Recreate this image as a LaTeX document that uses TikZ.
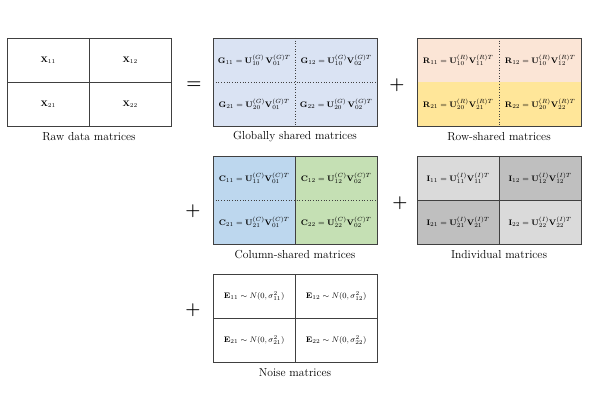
\documentclass[tikz,border=0pt]{standalone}
\usepackage{amsmath}
\definecolor{bordergray}{HTML}{404040}
\definecolor{gfill}{HTML}{DAE3F3}
\definecolor{rtop}{HTML}{FBE5D6}
\definecolor{rbot}{HTML}{FFE699}
\definecolor{cleft}{HTML}{BDD7EE}
\definecolor{cright}{HTML}{C5E0B4}
\definecolor{ilight}{HTML}{DADADA}
\definecolor{idark}{HTML}{BFBFBF}
\begin{document}
\begin{tikzpicture}[x=1pt,y=-1pt,
  cell/.style={minimum width=82pt,minimum height=44pt,inner sep=0pt,anchor=north west,font=\fontsize{8.3}{10}\selectfont},
  frame/.style={draw=bordergray,line width=0.8pt},
  solidin/.style={draw=bordergray,line width=0.7pt},
  dotin/.style={draw=bordergray,line width=0.7pt,dotted},
  captext/.style={font=\fontsize{11.6}{13}\selectfont,anchor=center,inner sep=0pt},
  op/.style={font=\fontsize{16}{17}\selectfont\boldmath,inner sep=0pt}]
\useasboundingbox (0,0) rectangle (591,414);

% Raw data
\node[cell,fill=white] (x11) at (7,38) {$\mathbf{X}_{11}$};
\node[cell,fill=white] (x12) at (89,38) {$\mathbf{X}_{12}$};
\node[cell,fill=white] (x21) at (7,82) {$\mathbf{X}_{21}$};
\node[cell,fill=white] (x22) at (89,82) {$\mathbf{X}_{22}$};
\draw[solidin] (x11.north east) -- (x21.south east);
\draw[solidin] (x11.south west) -- (x12.south east);
\draw[frame] (x11.north west) rectangle (x22.south east);
\node[captext] (xcap) at (89,137) {Raw data matrices};

\node[op] (eq) at (194,85) {$=$};

% Globally shared
\node[cell,fill=gfill] (g11) at (213,38) {$\mathbf{G}_{11}=\mathbf{U}^{(G)}_{10}\,\mathbf{V}^{(G)T}_{01}$};
\node[cell,fill=gfill] (g12) at (295,38) {$\mathbf{G}_{12}=\mathbf{U}^{(G)}_{10}\mathbf{V}^{(G)T}_{02}$};
\node[cell,fill=gfill] (g21) at (213,82) {$\mathbf{G}_{21}=\mathbf{U}^{(G)}_{20}\mathbf{V}^{(G)T}_{01}$};
\node[cell,fill=gfill] (g22) at (295,82) {$\mathbf{G}_{22}=\mathbf{U}^{(G)}_{20}\,\mathbf{V}^{(G)T}_{02}$};
\draw[dotin] (g11.north east) -- (g21.south east);
\draw[dotin] (g11.south west) -- (g12.south east);
\draw[frame] (g11.north west) rectangle (g22.south east);
\node[captext] (gcap) at (295,137) {Globally shared matrices};

\node[op] (p1) at (397,85) {$+$};

% Row-shared
\node[cell,fill=rtop] (r11) at (417,38) {$\mathbf{R}_{11}=\mathbf{U}^{(R)}_{10}\mathbf{V}^{(R)T}_{11}$};
\node[cell,fill=rtop] (r12) at (499,38) {$\mathbf{R}_{12}=\mathbf{U}^{(R)}_{10}\mathbf{V}^{(R)T}_{12}$};
\node[cell,fill=rbot] (r21) at (417,82) {$\mathbf{R}_{21}=\mathbf{U}^{(R)}_{20}\mathbf{V}^{(R)T}_{21}$};
\node[cell,fill=rbot] (r22) at (499,82) {$\mathbf{R}_{22}=\mathbf{U}^{(R)}_{20}\mathbf{V}^{(R)T}_{22}$};
\draw[dotin] (r11.north east) -- (r21.south east);
\draw[frame] (r11.north west) rectangle (r22.south east);
\node[captext] (rcap) at (499,137) {Row-shared matrices};

\node[op] (p2) at (193,211) {$+$};

% Column-shared
\node[cell,fill=cleft] (c11) at (213,156) {$\mathbf{C}_{11}=\mathbf{U}^{(C)}_{11}\mathbf{V}^{(C)T}_{01}$};
\node[cell,fill=cright] (c12) at (295,156) {$\mathbf{C}_{12}=\mathbf{U}^{(C)}_{12}\mathbf{V}^{(C)T}_{02}$};
\node[cell,fill=cleft] (c21) at (213,200) {$\mathbf{C}_{21}=\mathbf{U}^{(C)}_{21}\mathbf{V}^{(C)T}_{01}$};
\node[cell,fill=cright] (c22) at (295,200) {$\mathbf{C}_{22}=\mathbf{U}^{(C)}_{22}\mathbf{V}^{(C)T}_{02}$};
\draw[solidin] (c11.north east) -- (c21.south east);
\draw[dotin] (c11.south west) -- (c12.south east);
\draw[frame] (c11.north west) rectangle (c22.south east);
\node[captext] (ccap) at (295,255) {Column-shared matrices};

\node[op] (p3) at (400,203) {$+$};

% Individual
\node[cell,fill=ilight] (i11) at (417,156) {$\mathbf{I}_{11}=\mathbf{U}^{(I)}_{11}\mathbf{V}^{(I)T}_{11}$};
\node[cell,fill=idark] (i12) at (499,156) {$\mathbf{I}_{12}=\mathbf{U}^{(I)}_{12}\mathbf{V}^{(I)T}_{12}$};
\node[cell,fill=idark] (i21) at (417,200) {$\mathbf{I}_{21}=\mathbf{U}^{(I)}_{21}\mathbf{V}^{(I)T}_{21}$};
\node[cell,fill=ilight] (i22) at (499,200) {$\mathbf{I}_{22}=\mathbf{U}^{(I)}_{22}\mathbf{V}^{(I)T}_{22}$};
\draw[solidin] (i11.north east) -- (i21.south east);
\draw[solidin] (i11.south west) -- (i12.south east);
\draw[frame] (i11.north west) rectangle (i22.south east);
\node[captext] (icap) at (499,255) {Individual matrices};

\node[op] (p4) at (193,310) {$+$};

% Noise
\node[cell,fill=white] (e11) at (213,274) {$\mathbf{E}_{11}\sim N(0,\sigma^2_{11})$};
\node[cell,fill=white] (e12) at (295,274) {$\mathbf{E}_{12}\sim N(0,\sigma^2_{12})$};
\node[cell,fill=white] (e21) at (213,318) {$\mathbf{E}_{21}\sim N(0,\sigma^2_{21})$};
\node[cell,fill=white] (e22) at (295,318) {$\mathbf{E}_{22}\sim N(0,\sigma^2_{22})$};
\draw[solidin] (e11.north east) -- (e21.south east);
\draw[solidin] (e11.south west) -- (e12.south east);
\draw[frame] (e11.north west) rectangle (e22.south east);
\node[captext] (ecap) at (295,373) {Noise matrices};
\end{tikzpicture}
\end{document}
